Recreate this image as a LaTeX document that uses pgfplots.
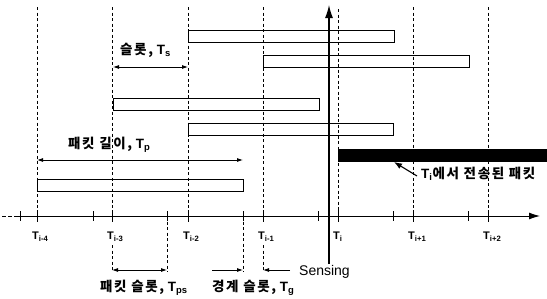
\documentclass[border=0pt]{standalone}
\usepackage{pgfplots}
\pgfplotsset{compat=1.18}
\usepackage{fontspec}
\setmainfont{Liberation Sans}
\newfontfamily\kr{Noto Sans CJK KR}[LetterSpace=12]
\usetikzlibrary{arrows.meta}
\begin{document}
\begin{tikzpicture}
\begin{axis}[x=1pt,y=1pt, xmin=0,xmax=547,ymin=0,ymax=298, y dir=reverse,
  hide axis, clip=false, scale only axis, unbounded coords=jump]
% invisible frame
\addplot[draw=none] coordinates {(0,0) (547,298)};
% dashed slot lines above the axis
\addplot[black, line width=0.8pt, dash pattern=on 3pt off 2.5pt] coordinates {
 (37,7)(37,216)(37,nan)
 (112,7)(112,216)(112,nan)
 (188,7)(188,216)(188,nan)
 (263,7)(263,216)(263,nan)
 (338,9)(338,216)(338,nan)
 (413,7)(413,216)(413,nan)
 (488,7)(488,216)};
% dashed lines below the axis
\addplot[black, line width=0.8pt, dash pattern=on 3pt off 2.5pt] coordinates {
 (112,245)(112,272)(112,nan)
 (167,216)(167,272)(167,nan)
 (243,216)(243,272)(243,nan)
 (263,245)(263,272)};
% time axis
\addplot[black, line width=0.9pt, dash pattern=on 4pt off 2pt] coordinates {(2,216)(16,216)};
\addplot[black, line width=0.9pt, -{Latex[length=11pt,width=7pt]}] coordinates {(16,216)(540,216)};
% ticks
\addplot[black, line width=0.9pt] coordinates {
 (20,211)(20,221)(20,nan)
 (37,210)(37,222)(37,nan)
 (93,211)(93,221)(93,nan)
 (112,210)(112,222)(112,nan)
 (167,211)(167,221)(167,nan)
 (188,210)(188,222)(188,nan)
 (243,211)(243,221)(243,nan)
 (263,210)(263,222)(263,nan)
 (318,211)(318,221)(318,nan)
 (338,210)(338,222)(338,nan)
 (393,211)(393,221)(393,nan)
 (413,210)(413,222)(413,nan)
 (468,211)(468,221)(468,nan)
 (488,210)(488,222)};
% packets (open bars)
\addplot[black, line width=0.9pt] coordinates {(188,30)(394,30)(394,42)(188,42)} -- cycle;
\addplot[black, line width=0.9pt] coordinates {(263,55)(469,55)(469,67)(263,67)} -- cycle;
\addplot[black, line width=0.9pt] coordinates {(113,98)(319,98)(319,110)(113,110)} -- cycle;
\addplot[black, line width=0.9pt] coordinates {(188,123)(393,123)(393,135)(188,135)} -- cycle;
\addplot[black, line width=0.9pt] coordinates {(37,179)(243,179)(243,191)(37,191)} -- cycle;
% packet transmitted at T_i (filled)
\addplot[black, fill=black, line width=0.5pt] coordinates {(338,149)(547,149)(547,161)(338,161)} -- cycle;
% dimension arrows
\addplot[black, line width=0.8pt, {Latex[length=6pt,width=4pt]}-{Latex[length=6pt,width=4pt]}] coordinates {(113,67)(188,67)};
\addplot[black, line width=0.8pt, {Latex[length=6pt,width=4pt]}-{Latex[length=6pt,width=4pt]}] coordinates {(37,160)(243,160)};
\addplot[black, line width=0.8pt, {Latex[length=6pt,width=4pt]}-{Latex[length=6pt,width=4pt]}] coordinates {(112,270)(167,270)};
\addplot[black, line width=0.8pt, -{Latex[length=6pt,width=4pt]}] coordinates {(212,270)(243,270)};
\addplot[black, line width=0.8pt, -{Latex[length=6pt,width=4pt]}] coordinates {(290,270)(263,270)};
% sensing arrow
\addplot[black, line width=1.2pt, -{Latex[length=13pt,width=8pt]}] coordinates {(329,264)(329,5)};
% annotation arrow
\addplot[black, line width=1.1pt, -{Latex[length=8pt,width=6pt]}] coordinates {(417,176)(394,162)};
% time labels
\begin{scope}[every node/.style={font=\fontsize{11}{13}\selectfont\bfseries, inner sep=0pt}]
\node[anchor=west] at (axis cs:32,237) {T\textsubscript{i-4}};
\node[anchor=west] at (axis cs:107,237) {T\textsubscript{i-3}};
\node[anchor=west] at (axis cs:183,237) {T\textsubscript{i-2}};
\node[anchor=west] at (axis cs:258,237) {T\textsubscript{i-1}};
\node[anchor=west] at (axis cs:333,237) {T\textsubscript{i}};
\node[anchor=west] at (axis cs:408,237) {T\textsubscript{i+1}};
\node[anchor=west] at (axis cs:483,237) {T\textsubscript{i+2}};
\end{scope}
\begin{scope}[every node/.style={font=\fontsize{13.5}{15}\selectfont\bfseries, inner sep=0pt}]
\node[anchor=west] at (axis cs:120,50) {{\kr 슬롯,} T\textsubscript{s}};
\node[anchor=west] at (axis cs:68,145) {{\kr 패킷 길이,} T\textsubscript{p}};
\node[anchor=west] at (axis cs:100,288) {{\kr 패킷 슬롯,} T\textsubscript{ps}};
\node[anchor=west] at (axis cs:212,288) {{\kr 경계 슬롯,} T\textsubscript{g}};
\node[anchor=west] at (axis cs:421,174) {T\textsubscript{i}{\kr 에서 전송된 패킷}};
\node[anchor=west, font=\fontsize{14}{16}\selectfont] at (axis cs:299,272) {Sensing};
\end{scope}
\end{axis}
\pgfresetboundingbox
\useasboundingbox (current axis.south west) rectangle (current axis.north east);
\end{tikzpicture}
\end{document}
